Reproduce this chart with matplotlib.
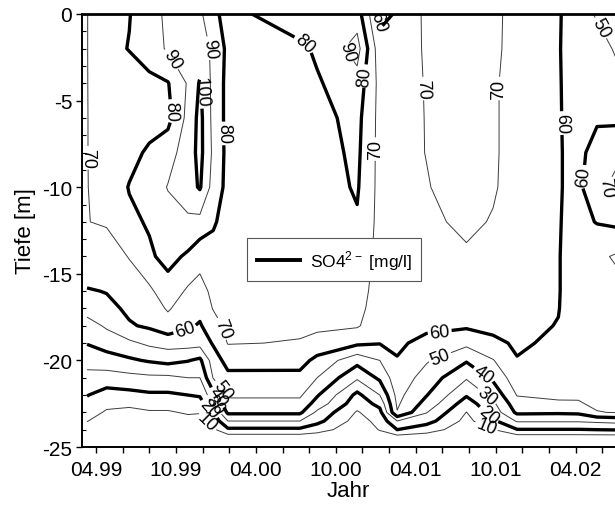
import numpy as np
import matplotlib
matplotlib.use("Agg")
import matplotlib.pyplot as plt
from matplotlib.lines import Line2D
from matplotlib.ticker import MultipleLocator

plt.rcParams['font.family'] = ['Liberation Sans', 'DejaVu Sans']
plt.rcParams['mathtext.fontset'] = 'custom'
plt.rcParams['mathtext.rm'] = 'Liberation Sans'
plt.rcParams['axes.unicode_minus'] = False

# sampling dates in months since 01.1999
months = [2.33, 3.8, 5.5, 7.0, 8.4, 9.9, 10.8, 11.8, 12.9, 18.3, 19.6, 22.6,
          24.3, 25.6, 27.8, 30.8, 32.8, 34.6, 37.7, 39.2, 40.6, 42.0]
depths = [0, -2, -4, -6, -8, -10, -12, -14, -16, -17, -18, -19, -20, -21,
          -22, -22.5, -23, -23.5, -24, -24.5]

# SO4 [mg/l], one depth profile per sampling date (top -> bottom)
so4 = [
    [69.8, 69.8, 69.8, 69.8, 69.8, 69.8, 69.8, 69.9, 59, 53, 47, 40.5, 33.5, 27, 20.5, 17, 13.5, 10.2, 7, 5],
    [76, 76, 75, 74, 74, 73, 71, 65, 60.5, 57, 51, 46, 34, 27, 15, 12, 9, 7, 5, 4],
    [79.5, 80.5, 74, 73, 77, 80.5, 78, 70.5, 64.5, 62, 59, 48, 38.5, 27, 17, 11.5, 8, 6, 5, 4],
    [88, 86, 77, 76, 81.5, 84, 81, 78.5, 68, 65, 61.5, 52, 41, 28, 18.5, 13.5, 9, 7, 5, 4],
    [91, 91, 79.5, 77, 86, 90.5, 86, 83, 76, 71, 66, 54, 43, 28, 18.5, 13.5, 9, 7, 5, 4],
    [95, 95, 91, 93, 95, 96, 88, 78.5, 68.5, 65, 61.5, 54, 40.5, 30, 20, 15, 11, 7, 5, 4],
    [92, 95, 101, 103, 103, 101, 87, 73, 67, 63, 59, 53.5, 38, 30, 21, 16, 10.5, 7, 5, 4],
    [82, 88, 87, 87, 88, 86, 81.5, 75.5, 72, 70.5, 66, 61, 55, 50.5, 37, 29, 20, 13, 8, 5],
    [77, 77.5, 77, 77, 77, 77, 75, 74, 73, 73, 72.5, 70.5, 63.5, 57.5, 51.5, 47, 42, 30, 18, 3],
    [86, 78, 76, 75, 75, 75, 74, 74, 73, 72, 71.5, 69.5, 64, 57, 51.5, 47, 42, 30, 18, 3],
    [88, 81.5, 79, 77, 76, 75.5, 75, 74, 73, 72, 71.5, 67.5, 57, 50, 41, 36, 28, 23, 14, 3],
    [85, 94, 86, 83, 82, 81, 79, 77, 74, 73, 71, 62, 43.5, 31.5, 17.5, 14, 9, 6, 4, 3],
    [57, 64, 67, 67, 67, 67, 67, 66.5, 66, 65, 64, 60.5, 50, 42, 30, 23, 17, 13, 10.5, 5],
    [61, 65, 66, 66.5, 67, 67, 67, 66.5, 66, 65, 63.5, 61.5, 59.5, 56, 53, 51.5, 49.5, 30, 20, 4],
    [72, 71, 70.5, 70.3, 70.2, 69.5, 67, 66, 65, 64, 62, 57.5, 51, 46, 40.5, 36.5, 30.5, 24, 14, 4],
    [75, 75, 75, 75, 75, 74, 73, 68, 66, 65, 61.5, 52.5, 41, 31, 21, 15, 9.8, 7, 5, 3],
    [74, 73.5, 72, 72, 72, 71.5, 69, 67, 66, 65, 63, 57.5, 49.5, 42, 33, 28, 24, 18, 9.5, 3],
    [64, 64, 64, 64, 64, 64, 64, 63.5, 63, 62.5, 62, 61.5, 59.5, 56, 50.5, 46, 42, 31, 19.5, 3],
    [61, 60.5, 60.5, 60.5, 60.5, 60.5, 60.5, 60.5, 60.5, 60.3, 59.7, 58, 57, 55, 52, 48.5, 41.5, 31, 19.5, 3],
    [54, 56, 57, 57.5, 58, 58, 57, 55, 55, 55, 55, 55, 54.5, 53.5, 51.5, 49, 42, 31, 19.5, 3],
    [49, 54, 57, 59, 63, 67, 60.5, 52, 54, 55, 55, 55, 54.5, 54, 53, 52, 49.5, 32, 20, 3],
    [45, 49, 53, 58, 67, 73, 62, 49, 53, 54, 55, 55, 54.5, 54, 53, 52, 50.5, 33, 20.5, 3],
]

thin_levels = [10, 30, 50, 70, 90]
thick_levels = [20, 40, 60, 80, 100]

tick_months = list(range(3, 42, 2))
tick_names = {3: '04.99', 9: '10.99', 15: '04.00', 21: '10.00',
              27: '04.01', 33: '10.01', 39: '04.02'}

# where the contour labels sit
thin_label_pos = [(2.7, -8.3), (8.7, -2.6), (11.3, -2.0), (21.8, -2.2),
                  (28.0, -4.3), (33.3, -4.3), (24.0, -7.8), (40.4, -1.0),
                  (41.0, -10.0), (12.3, -18.2), (28.8, -19.8), (32.4, -22.0),
                  (32.2, -24.0), (12.7, -21.6), (11.8, -22.6), (11.2, -23.7)]
thick_label_pos = [(10.8, -4.5), (8.7, -5.6), (12.3, -6.9), (19.0, -1.4),
                   (23.3, -3.6), (24.3, -0.4), (37.9, -6.3), (39.6, -9.4),
                   (9.7, -18.3), (28.8, -18.4), (32.0, -20.9), (32.5, -23.1),
                   (12.2, -22.1), (11.4, -22.9)]

z = np.array(so4).T

fig = plt.figure(figsize=(6.15, 5.06), dpi=100)
ax = fig.add_axes([0.1333, 0.1146, 0.8667, 0.8558])

cs1 = ax.contour(months, depths, z, levels=thin_levels, colors='#3c3c3c',
                 linewidths=0.7)
cs2 = ax.contour(months, depths, z, levels=thick_levels, colors='k',
                 linewidths=2.4)
ax.clabel(cs1, fmt='%d', fontsize=13, colors='k', manual=thin_label_pos,
          inline_spacing=2)
ax.clabel(cs2, fmt='%d', fontsize=13, colors='k', manual=thick_label_pos,
          inline_spacing=2)

ax.set_xlim(1.95, 41.95)
ax.set_ylim(-25, 0)
ax.set_xticks(tick_months)
ax.set_xticklabels([tick_names.get(m, '') for m in tick_months])
ax.set_yticks([0, -5, -10, -15, -20, -25])
ax.yaxis.set_minor_locator(MultipleLocator(1))
ax.tick_params(axis='x', direction='out', length=4, width=1, labelsize=15, pad=5)
ax.tick_params(axis='y', which='major', direction='out', length=4, width=1,
               labelsize=15, pad=3)
ax.tick_params(axis='y', which='minor', direction='in', length=3, width=0.8)

for side in ['left', 'bottom', 'top']:
    ax.spines[side].set_linewidth(1.4)
ax.spines['top'].set_linewidth(2.0)
ax.spines['right'].set_visible(False)

ax.set_xlabel('Jahr', fontsize=16, labelpad=1)
ax.set_ylabel('Tiefe [m]', fontsize=16, labelpad=4)

handle = Line2D([], [], color='k', lw=2.8)
leg = ax.legend([handle], ['SO4$^{2-}$ [mg/l]'], loc='lower left',
                bbox_to_anchor=(0.31, 0.383), borderaxespad=0, fancybox=False,
                framealpha=1, edgecolor='#555555', fontsize=12.5,
                handlelength=2.5, borderpad=0.55, handletextpad=0.55)
leg.get_frame().set_linewidth(0.8)

fig.savefig('out.png', dpi=100)
